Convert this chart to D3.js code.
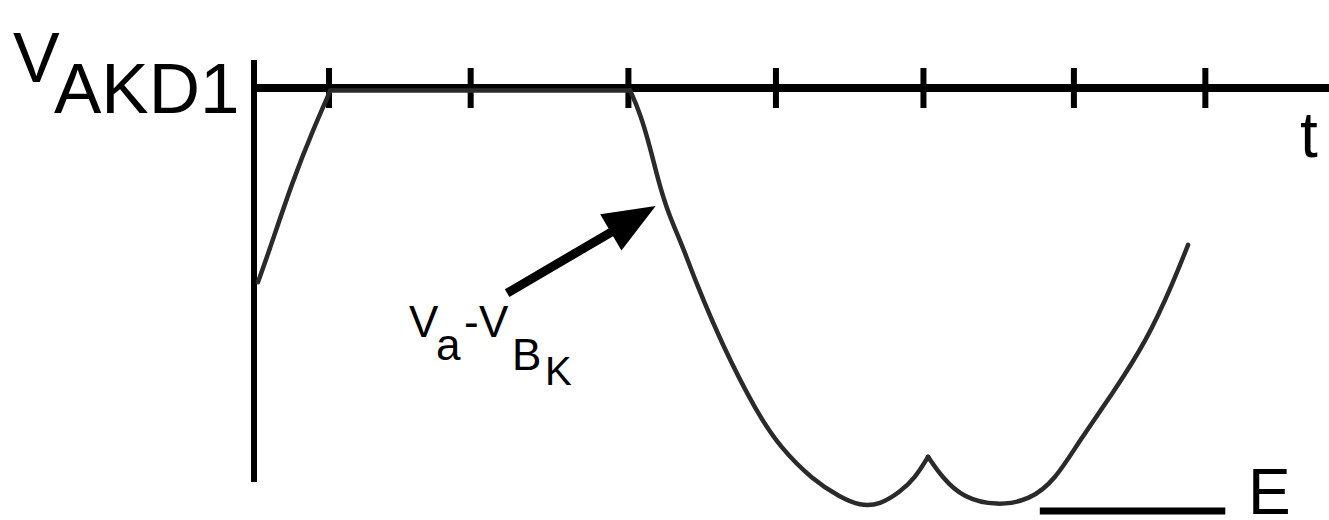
<!DOCTYPE html>
<html lang="en">
<head>
    <meta charset="UTF-8">
    <title>V AKD1 vs t</title>
    <script src="https://d3js.org/d3.v7.min.js"></script>
    <style>
        body { margin: 0; background: #fff; }
        svg { display: block; }
        text { font-family: "Liberation Sans", Arial, sans-serif; fill: #000; }
    </style>
</head>
<body>
    <svg id="chart" width="1329" height="520"></svg>

    <script>
        // Tick marks along the t axis (arbitrary time units)
        const tickTimes = [0.51, 1.48, 2.56, 3.57, 4.58, 5.61, 6.51];

        // Initial ramp up to the axis
        const rampT = [0.027, 0.089, 0.267, 0.404, 0.52];
        const rampV = [-0.459, -0.4, -0.217, -0.099, -0.008];

        // Flat part sitting on the axis
        const flatT = [0.52, 2.574];
        const flatV = [-0.006, -0.006];

        // Drop down to the first valley and the cusp
        const dropT = [2.574, 2.643, 2.711, 2.766, 2.835, 2.937, 3.019, 3.211, 3.444, 3.601, 3.827, 4.012, 4.149, 4.286, 4.423, 4.526, 4.615];
        const dropV = [-0.005, -0.059, -0.139, -0.217, -0.296, -0.376, -0.454, -0.612, -0.768, -0.849, -0.927, -0.967, -0.988, -0.985, -0.955, -0.922, -0.872];

        // From the cusp through the second valley and back up
        const riseT = [4.615, 4.71, 4.854, 5.087, 5.313, 5.484, 5.655, 5.881, 6.114, 6.292, 6.395];
        const riseV = [-0.872, -0.92, -0.969, -0.988, -0.974, -0.927, -0.832, -0.721, -0.596, -0.461, -0.371];

        // Level E
        const eLevel = -1;
        const eStart = 5.38;
        const eEnd = 6.65;

        // Arrow pointing to Va - VBK
        const arrowFrom = [1.733, -0.485];
        const arrowTo = [2.75, -0.279];

        const svg = d3.select("#chart");

        const x = d3.scaleLinear().domain([0, 7.36]).range([254, 1329]);
        const y = d3.scaleLinear().domain([0, -1]).range([88, 511]);

        const defs = svg.append("defs");
        defs.append("filter")
            .attr("id", "soft")
            .append("feGaussianBlur")
            .attr("stdDeviation", 0.7);

        // Vertical axis
        svg.append("line")
            .attr("x1", x(0)).attr("x2", x(0))
            .attr("y1", 60).attr("y2", 482)
            .attr("stroke", "#000")
            .attr("stroke-width", 6);

        // t axis with ticks
        const axis = d3.axisTop(x)
            .tickValues(tickTimes)
            .tickSizeOuter(0)
            .tickFormat("");

        const axisG = svg.append("g")
            .attr("transform", `translate(0,${y(0) + 20})`)
            .call(axis);
        axisG.select(".domain").remove();
        axisG.selectAll(".tick line")
            .attr("y1", -40)
            .attr("y2", 0)
            .attr("stroke", "#000")
            .attr("stroke-width", 6);

        svg.append("line")
            .attr("x1", x(0) - 3).attr("x2", 1329)
            .attr("y1", y(0)).attr("y2", y(0))
            .attr("stroke", "#000")
            .attr("stroke-width", 8);

        // Curve pieces
        const zip = (ts, vs) => ts.map((t, i) => [t, vs[i]]);
        const line = d3.line().x(d => x(d[0])).y(d => y(d[1]));
        const smooth = d3.line().x(d => x(d[0])).y(d => y(d[1])).curve(d3.curveBasis);

        const curveG = svg.append("g")
            .attr("fill", "none")
            .attr("stroke", "#2b2b2b")
            .attr("stroke-width", 4.5)
            .attr("stroke-linecap", "round")
            .attr("filter", "url(#soft)");

        curveG.append("path").attr("d", smooth(zip(rampT, rampV)));
        curveG.append("path").attr("d", line(zip(flatT, flatV)));
        curveG.append("path").attr("d", smooth(zip(dropT, dropV)));
        curveG.append("path").attr("d", smooth(zip(riseT, riseV)));

        // E line
        svg.append("line")
            .attr("x1", x(eStart)).attr("x2", x(eEnd))
            .attr("y1", y(eLevel)).attr("y2", y(eLevel))
            .attr("stroke", "#000")
            .attr("stroke-width", 7);

        // Arrow
        const ax0 = x(arrowFrom[0]), ay0 = y(arrowFrom[1]);
        const ax1 = x(arrowTo[0]), ay1 = y(arrowTo[1]);
        const ang = Math.atan2(ay1 - ay0, ax1 - ax0);
        const headLen = 52, headHalf = 21;
        const bx = ax1 - headLen * Math.cos(ang), by = ay1 - headLen * Math.sin(ang);
        svg.append("line")
            .attr("x1", ax0).attr("y1", ay0)
            .attr("x2", bx + 4 * Math.cos(ang)).attr("y2", by + 4 * Math.sin(ang))
            .attr("stroke", "#000")
            .attr("stroke-width", 9);
        svg.append("path")
            .attr("d", `M${ax1},${ay1}L${bx - headHalf * Math.sin(ang)},${by + headHalf * Math.cos(ang)}L${bx + headHalf * Math.sin(ang)},${by - headHalf * Math.cos(ang)}Z`)
            .attr("fill", "#000");

        // Labels
        const yLabel = svg.append("text");
        yLabel.append("tspan").attr("x", 13).attr("y", 82).attr("font-size", 70).text("V");
        yLabel.append("tspan").attr("x", 54).attr("y", 113).attr("font-size", 71).text("AKD1");

        svg.append("text")
            .attr("x", 1300).attr("y", 157)
            .attr("font-size", 64)
            .text("t");

        svg.append("text")
            .attr("x", 1248).attr("y", 514)
            .attr("font-size", 64)
            .text("E");

        const ann = svg.append("text").attr("font-size", 44);
        ann.append("tspan").attr("x", 409).attr("y", 337).text("V");
        ann.append("tspan").attr("x", 436).attr("y", 360).text("a");
        ann.append("tspan").attr("x", 464).attr("y", 337).text("-");
        ann.append("tspan").attr("x", 479).attr("y", 337).text("V");
        ann.append("tspan").attr("x", 512).attr("y", 370).text("B");
        ann.append("tspan").attr("x", 545).attr("y", 385).attr("font-size", 40).text("K");
    </script>
</body>
</html>
